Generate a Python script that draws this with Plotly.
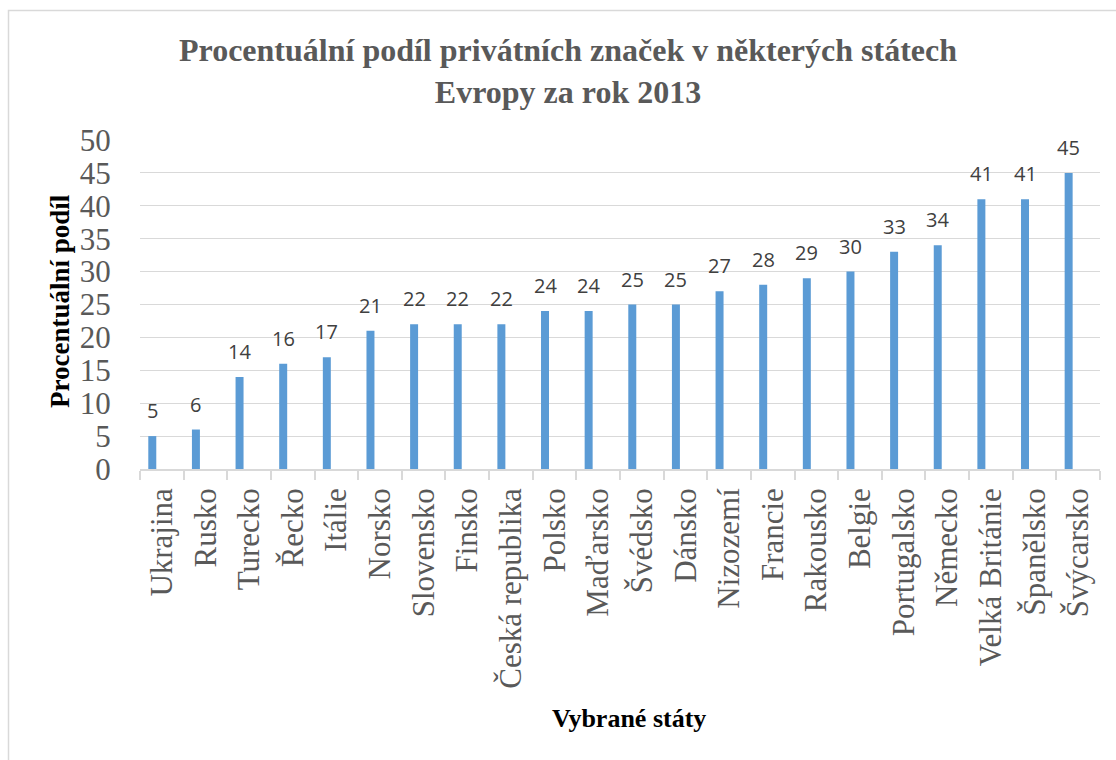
import plotly.graph_objects as go

countries = ["Ukrajina", "Rusko", "Turecko", "Řecko", "Itálie", "Norsko", "Slovensko",
             "Finsko", "Česká republika", "Polsko", "Maďarsko", "Švédsko", "Dánsko",
             "Nizozemí", "Francie", "Rakousko", "Belgie", "Portugalsko", "Německo",
             "Velká Británie", "Španělsko", "Švýcarsko"]
shares = [5, 6, 14, 16, 17, 21, 22, 22, 22, 24, 24, 25, 25, 27, 28, 29, 30, 33, 34, 41, 41, 45]
y_ticks = [0, 5, 10, 15, 20, 25, 30, 35, 40, 45, 50]

title_text = "<b>Procentuální podíl privátních značek v některých státech<br>Evropy za rok 2013</b>"
x_title = "<b>Vybrané státy</b>"
y_title = "<b>Procentuální podíl</b>"

W, H = 1116, 760
L, R, T, B = 140, 16, 140, 291
pw, ph = W - L - R, H - T - B

def px_x(px):
    return (px - L) / pw

def px_y(py):
    return (H - B - py) / ph

BAR_W = 0.183
BAR_OFF = -0.31

fig = go.Figure()
fig.add_trace(go.Bar(
    x=countries, y=shares,
    marker=dict(color="#5B9BD5", line=dict(width=0)),
    width=BAR_W, offset=BAR_OFF,
    hoverinfo="x+y",
))

annotations = []
for c, v in zip(countries, shares):
    annotations.append(dict(
        x=c, y=v, xref="x", yref="y", text=str(v), showarrow=False,
        yanchor="bottom", xanchor="center", xshift=-9.5, yshift=10,
        font=dict(family="Open Sans, Liberation Sans, sans-serif", size=20, color="#404040"),
    ))

annotations.append(dict(
    x=px_x(629), y=px_y(718), xref="paper", yref="paper", text=x_title, showarrow=False,
    xanchor="center", yanchor="middle",
    font=dict(family="Liberation Serif, serif", size=26, color="#000000"),
))
annotations.append(dict(
    x=px_x(60), y=px_y(301), xref="paper", yref="paper", text=y_title, showarrow=False,
    xanchor="center", yanchor="middle", textangle=-90,
    font=dict(family="Liberation Serif, serif", size=27, color="#000000"),
))

fig.update_layout(
    width=W, height=H,
    margin=dict(l=L, r=R, t=T, b=B, pad=0),
    paper_bgcolor="white", plot_bgcolor="white",
    showlegend=False,
    title=dict(
        text=title_text, x=568 / W, xanchor="center", xref="container",
        y=1 - 61 / H, yanchor="middle", yref="container",
        font=dict(family="Liberation Serif, serif", size=32, color="#595959"),
    ),
    annotations=annotations,
    shapes=[dict(
        type="rect", xref="paper", yref="paper",
        x0=px_x(8.5), x1=px_x(1118), y0=px_y(765), y1=px_y(10.5),
        line=dict(color="#D9D9D9", width=1.5), fillcolor="rgba(0,0,0,0)", layer="below",
    )],
    xaxis=dict(
        type="category", tickangle=-90, tickson="boundaries",
        ticks="outside", ticklen=9, tickcolor="#D9D9D9", tickwidth=1.5,
        showline=True, linecolor="#D9D9D9", linewidth=1.5,
        showgrid=False, ticklabelstandoff=5,
        tickfont=dict(family="Liberation Serif, serif", size=31, color="#595959"),
        range=[-0.5, len(countries) - 0.5],
    ),
    yaxis=dict(
        range=[0, 50], tickvals=y_ticks,
        showgrid=True, gridcolor="#D9D9D9", gridwidth=1.2,
        zeroline=False, showline=False,
        ticks="outside", ticklen=22, tickcolor="rgba(0,0,0,0)",
        tickfont=dict(family="Liberation Serif, serif", size=31, color="#595959"),
    ),
)

fig.write_html("out.html")
